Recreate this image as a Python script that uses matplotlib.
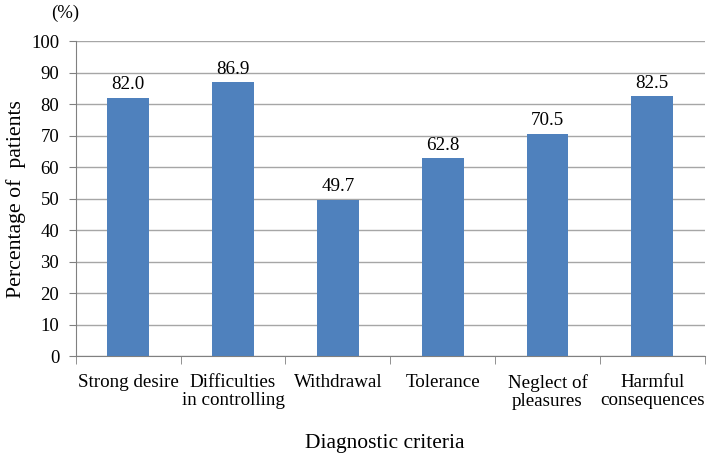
import numpy as np
from matplotlib import pyplot as plt

categories = ["Strong desire", "Difficulties\nin controlling", "Withdrawal",
              "Tolerance", "Neglect of\npleasures", "Harmful\nconsequences"]
values = [82.0, 86.9, 49.7, 62.8, 70.5, 82.5]
yticks = list(range(0, 101, 10))

plt.rcParams["font.family"] = ["Liberation Serif", "DejaVu Serif"]

fig = plt.figure(figsize=(7.09, 4.57), dpi=100)
ax = fig.add_axes([0.107, 0.221, 0.887, 0.689])

x = np.arange(len(categories))
bars = ax.bar(x, values, width=0.4, color="#4F81BD", zorder=3)
for b, v in zip(bars, values):
    ax.text(b.get_x() + b.get_width() / 2, v + 1.5, f"{v:.1f}",
            ha="center", va="bottom", fontsize=13.7)

ax.set_xlim(-0.5, len(categories) - 0.5)
ax.set_ylim(0, 100)
ax.set_yticks(yticks)
ax.tick_params(axis="y", labelsize=13.5, length=5, color="#808080", pad=7)
ax.yaxis.grid(True, color="#A6A6A6", linewidth=1, zorder=0)

ax.set_xticks(x)
ax.set_xticklabels(categories, fontsize=13.7, linespacing=1.1)
ax.tick_params(axis="x", length=0, pad=13)
ax.set_xticks(np.arange(-0.5, len(categories), 1), minor=True)
ax.tick_params(axis="x", which="minor", length=6, color="#808080")

for s in ["top", "right"]:
    ax.spines[s].set_visible(False)
for s in ["left", "bottom"]:
    ax.spines[s].set_color("#808080")

ax.set_ylabel("Percentage of  patients", fontsize=15.7, labelpad=4)
fig.text(0.543, 0.029, "Diagnostic criteria", ha="center", va="center", fontsize=15.5)
fig.text(0.092, 0.97, "(%)", ha="center", va="center", fontsize=13.5)

fig.savefig("out.png", dpi=100)
